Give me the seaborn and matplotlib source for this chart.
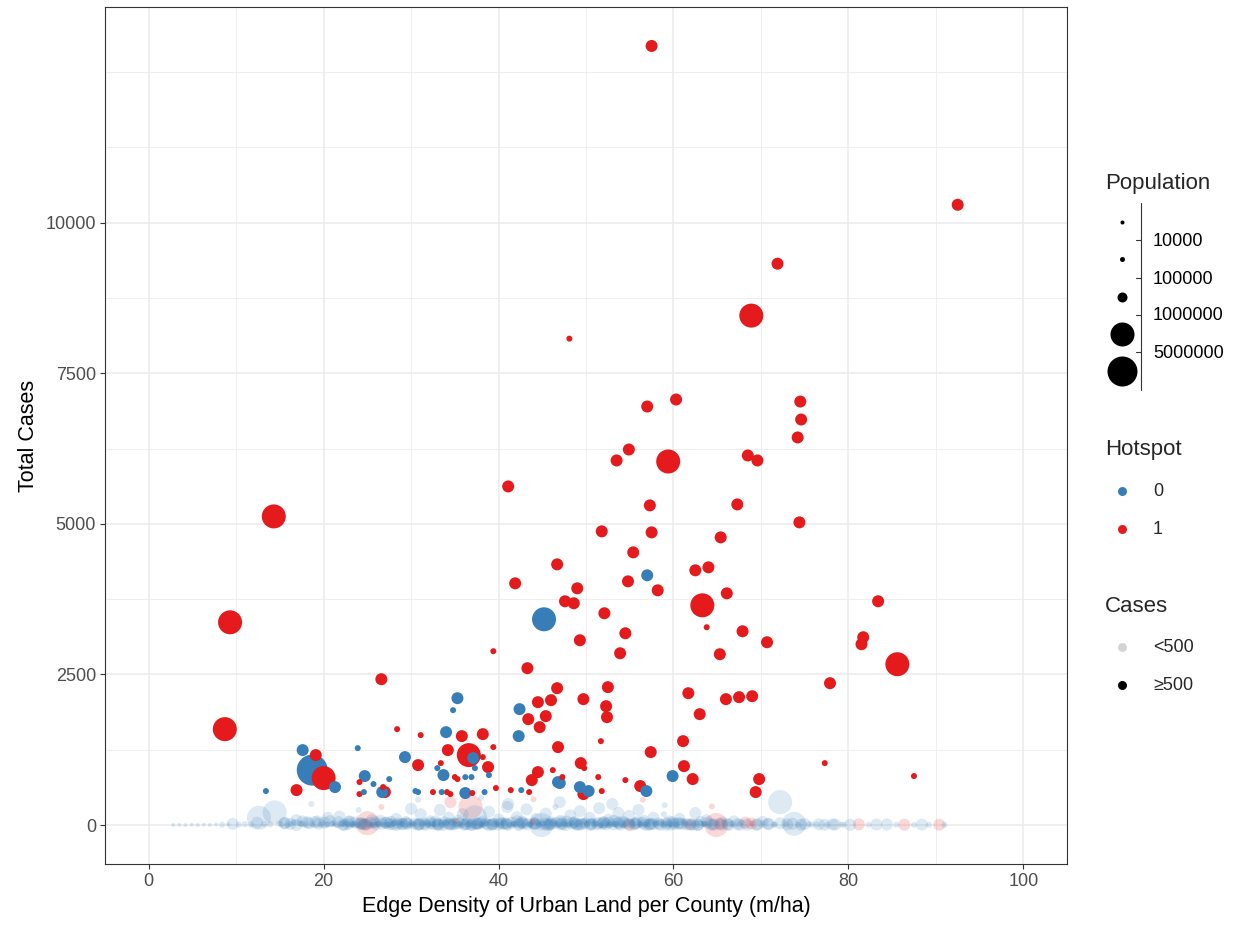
import numpy as np
import pandas as pd
import matplotlib
matplotlib.use("Agg")
import matplotlib.pyplot as plt
import seaborn as sns

# ---------------------------------------------------------------------------
# County data: edge density (m/ha), total cases, population (thousands)
# ---------------------------------------------------------------------------
# Hotspot counties with >= 500 cases
hot_edge = [57.5, 92.5, 71.9, 68.9, 48.1, 57.0, 60.3, 74.5, 74.6, 74.2,
            54.9, 53.5, 59.4, 68.5, 69.6, 41.1, 57.3, 14.3, 74.4, 67.3,
            51.8, 57.5, 65.4, 55.4, 46.7, 62.5, 64.0, 41.9, 54.8, 58.2,
            49.0, 47.6, 48.6, 66.1, 63.3, 83.4, 52.1, 63.8, 67.9, 54.5,
            49.3, 70.7, 81.7, 81.5, 39.4, 53.9, 65.3, 85.6, 43.3, 26.6,
            77.9, 46.7, 52.5, 61.7, 66.0, 67.5, 69.0, 44.5, 46.0, 49.7,
            52.3, 52.4, 63.0, 43.4, 45.4, 44.7, 9.3, 8.7, 28.4, 31.1,
            35.8, 38.2, 61.1, 51.7, 19.1, 39.4, 34.2, 36.6, 46.8, 57.4,
            30.8, 38.8, 33.4, 38.2, 61.2, 77.3, 49.4, 49.8, 46.2, 44.5,
            43.8, 20.0, 62.2, 69.8, 87.5, 51.4, 54.5, 56.2, 69.4, 49.7,
            51.8, 27.0, 24.1, 24.1, 26.8, 32.5, 34.1, 34.5, 37.0, 39.7,
            41.4, 43.5, 35.0, 35.3, 47.3, 16.9]
hot_cases = [12935, 10298, 9320, 8458, 8076, 6949, 7065, 7031, 6733, 6435,
             6235, 6053, 6036, 6136, 6053, 5622, 5307, 5124, 5025, 5323,
             4876, 4859, 4776, 4527, 4328, 4229, 4279, 4013, 4046, 3897,
             3930, 3715, 3682, 3847, 3648, 3715, 3516, 3284, 3217, 3184,
             3068, 3035, 3118, 3002, 2886, 2852, 2836, 2670, 2604, 2421,
             2355, 2272, 2289, 2189, 2090, 2123, 2139, 2040, 2073, 2090,
             1973, 1791, 1841, 1758, 1808, 1625, 3366, 1592, 1592, 1493,
             1476, 1509, 1393, 1393, 1161, 1294, 1244, 1161, 1294, 1211,
             995, 962, 1028, 1128, 978, 1028, 1028, 945, 912, 879,
             746, 779, 763, 763, 813, 796, 746, 647, 547, 514,
             564, 547, 713, 514, 630, 547, 547, 514, 531, 614,
             580, 547, 796, 763, 796, 580]
hot_pop_k = [400, 400, 400, 2500, 50, 400, 400, 400, 400, 400,
             400, 400, 2500, 400, 400, 400, 400, 2500, 400, 400,
             400, 400, 400, 400, 400, 400, 400, 400, 400, 400,
             400, 400, 400, 400, 2500, 400, 400, 50, 400, 400,
             400, 400, 400, 400, 50, 400, 400, 2500, 400, 400,
             400, 400, 400, 400, 400, 400, 400, 400, 400, 400,
             400, 400, 400, 400, 400, 400, 2500, 2500, 50, 50,
             400, 400, 400, 50, 400, 50, 400, 2500, 400, 400,
             400, 400, 50, 50, 400, 50, 400, 50, 50, 400,
             400, 2500, 400, 400, 50, 50, 50, 400, 400, 400,
             50, 400, 50, 50, 50, 50, 50, 50, 50, 50,
             50, 50, 50, 50, 50, 400]

# Non-hotspot counties with >= 500 cases
cold_edge = [57.0, 45.2, 35.3, 34.8, 42.4, 42.3, 34.0, 17.6, 23.9, 29.3,
             18.7, 37.1, 33.7, 24.7, 59.9, 56.9, 49.3, 50.3, 46.8, 36.2,
             33.0, 37.3, 36.2, 36.9, 38.9, 25.7, 27.5, 24.6, 26.7, 30.5,
             30.8, 33.5, 38.4, 42.6, 21.3, 13.4, 47.0]
cold_cases = [4146, 3416, 2106, 1907, 1924, 1476, 1542, 1244, 1277, 1128,
              912, 1111, 829, 813, 813, 564, 630, 564, 713, 531,
              945, 945, 796, 796, 829, 680, 763, 547, 547, 564,
              547, 547, 547, 580, 630, 564, 697]
cold_pop_k = [400, 2500, 400, 50, 400, 400, 400, 400, 50, 400,
              8000, 400, 400, 400, 400, 400, 400, 400, 400, 400,
              50, 50, 50, 50, 50, 50, 50, 50, 400, 50,
              50, 50, 50, 50, 400, 50, 400]

# Counties with < 500 cases, scattered above the baseline
low_edge = [2.8, 3.5, 4.2, 4.9, 5.6, 6.3, 7.0, 7.7, 8.4, 9.1,
            9.6, 10.3, 11.0, 11.7, 12.4, 12.6, 13.2, 13.9, 14.4, 14.9,
            15.6, 16.2, 16.9, 17.5, 18.1, 18.6, 19.3, 19.9, 20.5, 21.2,
            21.8, 22.3, 22.9, 23.5, 24.0, 24.6, 25.0, 25.5, 26.1, 26.6,
            27.2, 27.7, 28.3, 28.9, 29.4, 30.0, 30.5, 31.1, 31.6, 32.2,
            32.7, 33.3, 33.8, 34.3, 34.9, 35.4, 35.9, 36.4, 36.8, 37.3,
            37.9, 38.4, 38.9, 39.5, 40.0, 40.5, 41.1, 41.6, 42.1, 42.7,
            43.2, 43.8, 44.3, 44.9, 45.4, 46.0, 46.5, 47.1, 47.6, 48.2,
            48.7, 49.3, 49.8, 50.4, 50.9, 51.5, 52.0, 52.6, 53.2, 53.7,
            54.3, 54.9, 55.4, 56.0, 56.6, 57.1, 57.7, 58.3, 58.9, 59.5,
            60.1, 60.7, 61.3, 61.9, 62.5, 63.1, 63.8, 64.4, 64.9, 65.6,
            66.2, 66.9, 67.5, 68.2, 68.9, 69.5, 70.2, 70.9, 71.6, 72.2,
            73.0, 73.8, 74.6, 75.5, 76.4, 77.3, 78.2, 79.2, 80.2, 81.2,
            82.3, 83.2, 84.4, 85.5, 86.4, 87.5, 88.4, 89.2, 90.4, 91.0,
            20.3, 21.0, 21.6, 22.1, 22.7, 23.3, 23.9, 24.4, 25.2, 25.8,
            26.3, 26.9, 27.5, 28.0, 28.6, 29.1, 29.7, 30.2, 30.8, 31.3,
            31.9, 32.4, 33.0, 33.5, 34.0, 34.6, 35.1, 35.6, 36.1, 36.6,
            37.1, 37.6, 38.2, 38.7, 39.2, 39.8, 40.3, 40.8, 41.3, 41.9,
            42.4, 42.9, 43.5, 44.0, 44.6, 45.1, 45.7, 46.2, 46.8, 47.3,
            47.9, 48.4, 49.0, 49.6, 50.1, 50.6, 51.2, 51.7, 52.3, 52.8,
            53.4, 53.9, 54.5, 55.1, 55.7, 56.3, 56.8, 57.4, 58.0, 58.6,
            59.2, 59.8, 60.4, 61.0, 61.6, 62.2, 62.8, 63.4, 64.1, 64.7,
            30.8, 34.5, 38.0, 41.0, 44.0, 47.0, 50.0, 53.0, 56.5, 59.0]
low_cases = [0, 3, 1, 6, 2, 8, 4, 10, 5, 12,
             20, 7, 15, 9, 40, 120, 18, 11, 210, 25,
             30, 14, 80, 20, 45, 350, 60, 25, 120, 35,
             140, 20, 60, 30, 250, 10, 30, 80, 15, 300,
             40, 5, 100, 25, 50, 270, 10, 180, 35, 60,
             15, 250, 45, 120, 20, 70, 180, 5, 300, 130,
             30, 60, 220, 10, 90, 40, 350, 15, 130, 55,
             260, 20, 100, 0, 190, 45, 300, 70, 10, 160,
             30, 230, 60, 120, 15, 280, 40, 90, 10, 200,
             50, 150, 20, 250, 70, 5, 120, 35, 180, 60,
             20, 100, 45, 10, 200, 30, 80, 310, 0, 40,
             15, 60, 10, 40, 25, 5, 50, 20, 10, 380,
             10, 20, 5, 15, 8, 3, 10, 6, 4, 12,
             5, 8, 10, 4, 6, 2, 8, 3, 5, 2,
             5, 12, 3, 20, 8, 15, 2, 25, 10, 5,
             18, 6, 12, 30, 2, 15, 8, 22, 4, 12,
             6, 25, 10, 2, 30, 12, 5, 20, 8, 15,
             3, 18, 8, 25, 5, 14, 2, 28, 10, 6,
             20, 4, 12, 30, 6, 16, 3, 22, 9, 14,
             5, 26, 10, 3, 18, 8, 24, 2, 12, 6,
             20, 5, 15, 3, 25, 10, 4, 18, 7, 12,
             4, 15, 8, 20, 3, 10, 6, 16, 2, 9,
             420, 380, 450, 300, 430, 380, 460, 350, 420, 330]
low_pop_k = [5, 5, 5, 5, 8, 5, 8, 5, 30, 8,
             400, 30, 50, 30, 400, 2500, 50, 30, 2500, 60,
             400, 50, 400, 60, 400, 50, 400, 60, 400, 50,
             400, 50, 400, 60, 50, 400, 2500, 400, 60, 50,
             400, 50, 400, 60, 400, 400, 60, 400, 50, 400,
             60, 400, 400, 400, 50, 400, 400, 60, 2500, 2500,
             400, 50, 400, 60, 400, 60, 400, 50, 400, 400,
             400, 60, 400, 2500, 400, 400, 50, 400, 60, 400,
             400, 400, 60, 400, 50, 400, 400, 400, 60, 400,
             400, 400, 60, 400, 400, 60, 400, 50, 50, 400,
             400, 400, 60, 400, 400, 50, 400, 60, 2500, 400,
             400, 400, 60, 400, 400, 400, 400, 400, 60, 2500,
             400, 2500, 400, 60, 50, 400, 400, 50, 400, 400,
             50, 400, 400, 60, 400, 50, 400, 60, 400, 50,
             50, 60, 30, 50, 60, 50, 30, 400, 50, 60,
             50, 60, 400, 50, 60, 400, 50, 60, 400, 50,
             60, 50, 400, 60, 50, 400, 60, 50, 400, 60,
             50, 400, 60, 50, 400, 60, 50, 400, 60, 50,
             400, 60, 50, 400, 60, 50, 400, 60, 50, 400,
             60, 50, 400, 60, 50, 400, 60, 50, 400, 60,
             50, 400, 60, 50, 400, 60, 50, 400, 60, 50,
             400, 60, 50, 400, 60, 50, 400, 60, 50, 400,
             60, 400, 60, 400, 60, 400, 60, 400, 60, 50]
low_hotspot = [0, 0, 0, 0, 0, 0, 0, 0, 0, 0,
               0, 0, 0, 0, 0, 0, 0, 0, 0, 0,
               0, 0, 0, 0, 0, 0, 0, 0, 0, 0,
               0, 0, 0, 0, 0, 0, 1, 0, 0, 1,
               0, 0, 0, 0, 0, 0, 0, 0, 0, 0,
               0, 0, 0, 0, 0, 0, 0, 0, 1, 0,
               0, 0, 0, 0, 0, 0, 0, 0, 0, 0,
               0, 0, 0, 0, 0, 0, 0, 0, 0, 0,
               0, 0, 0, 0, 0, 0, 0, 0, 0, 0,
               0, 0, 0, 0, 0, 0, 0, 0, 0, 0,
               0, 0, 0, 1, 0, 0, 0, 1, 1, 0,
               0, 0, 0, 1, 1, 0, 0, 0, 0, 0,
               0, 0, 0, 0, 0, 0, 0, 0, 0, 1,
               0, 0, 0, 0, 1, 0, 0, 0, 1, 0,
               0, 0, 0, 0, 0, 0, 0, 0, 0, 0,
               0, 0, 0, 0, 0, 0, 0, 0, 0, 0,
               0, 0, 0, 0, 0, 0, 0, 0, 0, 0,
               0, 0, 0, 0, 0, 0, 0, 0, 0, 0,
               0, 0, 0, 0, 0, 0, 0, 0, 0, 0,
               0, 0, 0, 0, 0, 0, 0, 0, 0, 0,
               0, 0, 0, 0, 0, 0, 0, 0, 0, 0,
               0, 0, 0, 0, 0, 0, 0, 0, 0, 0,
               0, 1, 0, 0, 1, 0, 0, 0, 1, 0]

# Counties with < 500 cases packed along the baseline
band_edge = [15.2, 15.5, 15.9, 16.2, 16.6, 16.9, 17.3, 17.6, 18.0, 18.3, 18.7, 19.0,
             19.4, 19.7, 20.1, 20.4, 20.7, 21.0, 21.4, 21.7, 22.0, 22.4, 22.7, 23.0,
             23.3, 23.6, 24.0, 24.3, 24.6, 24.9, 25.3, 25.6, 25.9, 26.2, 26.5, 26.8,
             27.1, 27.4, 27.7, 28.0, 28.3, 28.6, 28.9, 29.2, 29.5, 29.8, 30.1, 30.4,
             30.7, 31.0, 31.3, 31.6, 31.9, 32.2, 32.5, 32.8, 33.1, 33.4, 33.7, 34.0,
             34.3, 34.6, 34.9, 35.2, 35.5, 35.8, 36.1, 36.4, 36.7, 37.0, 37.3, 37.6,
             37.9, 38.2, 38.5, 38.8, 39.1, 39.4, 39.7, 40.0, 40.3, 40.6, 40.9, 41.2,
             41.5, 41.8, 42.1, 42.4, 42.7, 43.0, 43.3, 43.6, 43.9, 44.2, 44.5, 44.8,
             45.1, 45.4, 45.7, 46.0, 46.3, 46.6, 46.9, 47.2, 47.5, 47.8, 48.1, 48.4,
             48.7, 49.0, 49.3, 49.6, 49.9, 50.2, 50.5, 50.8, 51.1, 51.4, 51.7, 52.0,
             52.3, 52.6, 52.9, 53.2, 53.5, 53.8, 54.1, 54.4, 54.7, 55.0, 55.3, 55.6,
             55.9, 56.2, 56.5, 56.8, 57.1, 57.4, 57.7, 58.0, 58.3, 58.6, 58.9, 59.2,
             59.5, 59.9, 60.3, 60.7, 61.1, 61.5, 61.9, 62.3, 62.7, 63.1, 63.5, 63.9,
             64.3, 64.8, 65.3, 65.8, 66.3, 66.8, 67.3, 67.8, 68.4, 69.0, 69.6, 70.2,
             70.8, 71.5, 72.2, 72.9, 73.6, 74.3, 75.0, 75.8, 76.6, 77.5, 78.5, 79.5,
             22.2, 22.8, 23.4, 24.1, 24.7, 25.4, 26.0, 26.7, 27.3, 27.9, 28.5, 29.0,
             29.6, 30.2, 30.9, 31.5, 32.0, 32.6, 33.2, 33.8, 34.4, 35.0, 35.6, 36.2,
             36.8, 37.4, 38.0, 38.6, 39.3, 39.9, 40.5, 41.1, 41.7, 42.3, 42.9, 43.5,
             44.1, 44.7, 45.3, 45.9, 46.5, 47.1, 47.7, 48.3, 48.9, 49.5, 50.1, 50.7,
             51.3, 51.9, 52.5, 53.1, 53.7, 54.3, 54.9, 55.5, 56.1, 56.7, 57.3, 57.9,
             58.5, 59.1, 59.7, 60.5, 61.3, 62.0, 62.8, 63.6, 64.5, 65.5, 66.5, 67.6]
band_cases = [10, 35, 5, 20, 45, 0, 25, 60, 15, 30, 8, 50,
              22, 4, 40, 12, 65, 28, 6, 48, 18, 2, 36, 55,
              14, 42, 3, 26, 58, 9, 33, 1, 47, 19, 70, 11,
              38, 7, 52, 24, 0, 44, 16, 63, 29, 5, 41, 21,
              57, 13, 34, 2, 49, 27, 8, 61, 18, 39, 4, 53,
              23, 46, 10, 68, 31, 0, 43, 17, 55, 6, 37, 25,
              12, 59, 30, 3, 45, 20, 66, 9, 35, 51, 15, 1,
              40, 26, 62, 7, 33, 48, 14, 0, 56, 22, 38, 11,
              29, 5, 50, 18, 64, 36, 2, 44, 24, 58, 9, 31,
              47, 16, 3, 60, 27, 42, 8, 54, 20, 35, 0, 49,
              13, 39, 25, 67, 6, 46, 19, 32, 57, 1, 43, 28,
              52, 10, 37, 21, 4, 59, 15, 41, 26, 48, 7, 34,
              18, 45, 2, 30, 55, 12, 38, 5, 24, 50, 16, 40,
              8, 33, 20, 47, 3, 28, 14, 42, 6, 25, 11, 36,
              15, 5, 30, 10, 22, 4, 18, 8, 12, 3, 9, 6,
              6, 18, 2, 24, 11, 0, 15, 21, 4, 13, 26, 8,
              19, 3, 12, 25, 7, 16, 1, 22, 10, 27, 5, 14,
              2, 20, 9, 28, 13, 4, 23, 6, 17, 0, 24, 11,
              15, 3, 26, 8, 19, 12, 1, 22, 7, 18, 4, 25,
              10, 21, 5, 14, 27, 2, 16, 9, 23, 6, 12, 20,
              3, 17, 8, 22, 5, 13, 1, 18, 9, 4, 11, 6]
band_pop_k = [60, 400, 50, 400, 60, 400, 50, 400, 60, 400, 50, 400,
              400, 60, 400, 50, 400, 60, 60, 400, 50, 400, 60, 400,
              60, 400, 50, 400, 60, 400, 400, 50, 400, 60, 400, 50,
              400, 50, 400, 60, 400, 50, 400, 60, 400, 50, 60, 400,
              50, 400, 60, 400, 50, 400, 60, 400, 400, 50, 400, 60,
              400, 60, 400, 50, 400, 60, 50, 400, 60, 400, 50, 400,
              60, 400, 50, 400, 60, 400, 50, 400, 400, 60, 400, 50,
              400, 50, 400, 60, 400, 50, 400, 60, 50, 400, 60, 400,
              50, 400, 60, 400, 50, 400, 60, 400, 50, 400, 60, 400,
              400, 60, 400, 50, 400, 60, 400, 50, 60, 400, 50, 400,
              60, 400, 50, 400, 60, 400, 50, 400, 60, 400, 50, 400,
              400, 50, 400, 60, 400, 50, 400, 60, 400, 50, 60, 400,
              50, 400, 60, 400, 50, 400, 60, 400, 50, 400, 60, 400,
              400, 60, 400, 50, 400, 60, 400, 50, 400, 60, 400, 50,
              400, 60, 400, 50, 400, 60, 400, 50, 400, 60, 400, 50,
              400, 400, 60, 400, 400, 50, 400, 400, 60, 400, 400, 50,
              400, 60, 400, 400, 50, 400, 400, 60, 400, 400, 50, 400,
              400, 400, 60, 400, 400, 50, 400, 400, 60, 400, 400, 50,
              400, 60, 400, 400, 50, 400, 400, 60, 400, 400, 50, 400,
              400, 400, 60, 400, 400, 50, 400, 400, 60, 400, 400, 50,
              400, 60, 400, 400, 50, 400, 400, 60, 400, 400, 50, 400]
band_hotspot = [0, 0, 0, 0, 0, 0, 0, 0, 0, 0, 0, 0,
                0, 0, 0, 0, 0, 0, 0, 0, 0, 0, 0, 0,
                0, 0, 0, 0, 0, 1, 0, 0, 0, 0, 0, 0,
                0, 0, 0, 0, 0, 0, 0, 0, 0, 0, 0, 0,
                0, 0, 0, 0, 0, 0, 0, 0, 0, 0, 0, 0,
                0, 0, 0, 1, 0, 0, 0, 0, 0, 0, 0, 0,
                0, 0, 0, 0, 0, 0, 0, 0, 0, 0, 0, 0,
                0, 0, 0, 0, 0, 0, 0, 0, 1, 0, 0, 0,
                0, 0, 0, 0, 0, 0, 0, 0, 0, 0, 0, 0,
                0, 0, 0, 0, 0, 0, 0, 0, 0, 0, 0, 0,
                0, 0, 0, 0, 0, 0, 0, 0, 0, 1, 0, 0,
                0, 0, 0, 0, 0, 0, 0, 0, 0, 0, 0, 0,
                0, 0, 0, 0, 0, 0, 0, 0, 0, 0, 0, 0,
                0, 0, 1, 0, 0, 0, 0, 0, 0, 1, 0, 0,
                0, 0, 0, 0, 0, 0, 0, 0, 0, 0, 0, 0,
                0, 0, 0, 0, 0, 0, 0, 0, 0, 0, 0, 0,
                0, 0, 0, 0, 0, 0, 0, 0, 0, 0, 0, 0,
                0, 0, 0, 0, 0, 0, 0, 0, 0, 0, 0, 0,
                0, 0, 0, 0, 0, 0, 0, 0, 0, 0, 0, 0,
                0, 0, 0, 0, 0, 0, 0, 0, 0, 0, 0, 0,
                0, 0, 0, 0, 0, 0, 0, 0, 0, 0, 0, 0]

# Population bins and their point diameters (pixels)
pop_breaks = [10000, 100000, 1000000, 5000000]
pop_bins = ["b1", "b2", "b3", "b4", "b5"]
bin_diam_px = {"b1": 4, "b2": 6, "b3": 12, "b4": 24, "b5": 31}
legend_diam_px = [4, 5, 10, 24, 30]

y_breaks = [0, 2500, 5000, 7500, 10000]
x_breaks = [0, 20, 40, 60, 80, 100]

BLUE = "#377EB8"
RED = "#E41A1C"
DPI = 100
LOW_ALPHA = 0.17


def area(d_px):
    return (d_px * 72.0 / DPI) ** 2


df = pd.concat([
    pd.DataFrame({"edge": hot_edge, "cases": hot_cases, "pop": np.array(hot_pop_k) * 1000, "Hotspot": 1}),
    pd.DataFrame({"edge": cold_edge, "cases": cold_cases, "pop": np.array(cold_pop_k) * 1000, "Hotspot": 0}),
    pd.DataFrame({"edge": low_edge, "cases": low_cases, "pop": np.array(low_pop_k) * 1000, "Hotspot": low_hotspot}),
    pd.DataFrame({"edge": band_edge, "cases": band_cases, "pop": np.array(band_pop_k) * 1000, "Hotspot": band_hotspot}),
], ignore_index=True)
df["pop_bin"] = pd.cut(df["pop"], [0] + pop_breaks + [np.inf], labels=pop_bins).astype(str)
df["high"] = df["cases"] >= 500
df = df.sort_values("pop", ascending=False, kind="stable")

sns.set_theme(style="white")
plt.rcParams["font.family"] = ["Liberation Sans", "DejaVu Sans"]

fig = plt.figure(figsize=(1245 / DPI, 926 / DPI), dpi=DPI)
ax = fig.add_axes([105 / 1245, 1 - 864 / 926, (1067 - 105) / 1245, (864 - 7) / 926])

palette = {0: BLUE, 1: RED}
sizes = {b: area(d) for b, d in bin_diam_px.items()}

sns.scatterplot(data=df[~df["high"]], x="edge", y="cases", hue="Hotspot", size="pop_bin",
                sizes=sizes, palette=palette, alpha=LOW_ALPHA, linewidth=0, legend=False, ax=ax)
sns.scatterplot(data=df[df["high"]], x="edge", y="cases", hue="Hotspot", size="pop_bin",
                sizes=sizes, palette=palette, alpha=1.0, linewidth=0, legend=False, ax=ax)

ax.set_xlim(-5, 105)
ax.set_ylim(-647, 13582)
ax.set_xticks(x_breaks)
ax.set_yticks(y_breaks)
ax.set_xticks([10, 30, 50, 70, 90], minor=True)
ax.set_yticks([1250, 3750, 6250, 8750, 11250, 12500], minor=True)
ax.grid(True, which="major", color="#EBEBEB", linewidth=1.1)
ax.grid(True, which="minor", color="#EBEBEB", linewidth=0.55)
ax.set_axisbelow(True)
for s in ax.spines.values():
    s.set_color("#333333")
    s.set_linewidth(0.8)
ax.tick_params(which="major", length=3.5, width=0.8, color="#333333",
               labelsize=13, labelcolor="#4D4D4D", pad=3, bottom=True, left=True)
ax.tick_params(which="minor", length=0)
ax.set_xlabel("Edge Density of Urban Land per County (m/ha)", fontsize=15.5, color="black", labelpad=4)
ax.set_ylabel("Total Cases", fontsize=15.5, color="black", labelpad=5)

# Legend panel drawn in figure pixel coordinates
lg = fig.add_axes([0, 0, 1, 1], facecolor="none")
lg.set_xlim(0, 1245)
lg.set_ylim(926, 0)
lg.axis("off")

dot_x = 1122
lab_x = 1153
lg.text(1105, 183, "Population", fontsize=16, va="center", ha="left")
pop_dot_y = [222, 259, 297, 334, 371]
for yy, d in zip(pop_dot_y, legend_diam_px):
    lg.scatter([dot_x], [yy], s=area(d), color="black", linewidths=0)
lg.plot([1141, 1141], [203, 390], color="#333333", linewidth=0.8)
pop_tick_y = [240, 278, 315, 352]
pop_labels = [str(b) for b in pop_breaks]
for yy, lab in zip(pop_tick_y, pop_labels):
    lg.plot([1136, 1141], [yy, yy], color="#333333", linewidth=0.8)
    lg.text(lab_x, yy + 1, lab, fontsize=13, va="center", ha="left", color="black")

lg.text(1105, 450, "Hotspot", fontsize=16, va="center", ha="left")
for yy, lab, c in zip([491, 529], ["0", "1"], [BLUE, RED]):
    lg.scatter([dot_x], [yy], s=area(9), color=c, linewidths=0)
    lg.text(lab_x, yy, lab, fontsize=13, va="center", ha="left")

lg.text(1105, 607, "Cases", fontsize=16, va="center", ha="left")
for yy, lab, a in zip([647, 685], ["<500", "\u2265500"], [LOW_ALPHA, 1.0]):
    lg.scatter([dot_x], [yy], s=area(9), color="black", alpha=a, linewidths=0)
    lg.text(lab_x, yy, lab, fontsize=13, va="center", ha="left")

fig.savefig("out.png", dpi=DPI, facecolor="white")
